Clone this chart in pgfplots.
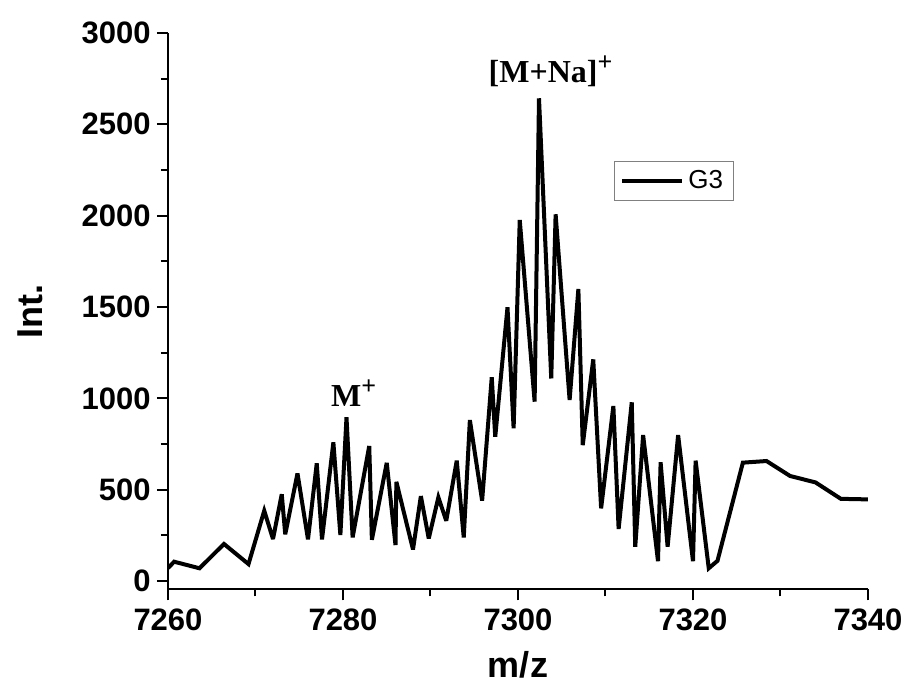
\documentclass[border=0pt]{standalone}
\usepackage{fontspec}
\setmainfont{Liberation Sans}
\newfontfamily\timesfont{Liberation Serif}
\usepackage{pgfplots}
\pgfplotsset{compat=1.18}
\begin{document}
\begin{tikzpicture}
\begin{axis}[
  name=ax,
  scale only axis,
  width=350pt, height=278.2pt,
  xmin=7260, xmax=7340, ymin=-45, ymax=3000,
  axis lines*=left,
  axis line style={line width=1pt},
  xtick={7260,7280,...,7340},
  ytick={0,500,...,3000},
  minor x tick num=1, minor y tick num=1,
  tick align=outside,
  major tick length=5.5pt, minor tick length=3.5pt,
  tick style={line width=1pt, black},
  /pgf/number format/assume math mode=true,
  /pgf/number format/set thousands separator={},
  ticklabel style={font=\fontsize{15.5}{18}\selectfont\bfseries},
  xticklabel style={inner sep=1pt, yshift=-3pt},
  yticklabel style={inner sep=1pt, xshift=-2pt},
  xlabel={m/z}, ylabel={Int.},
  label style={font=\fontsize{18}{21}\selectfont\bfseries},
  xlabel style={at={(axis description cs:0.5,-0.136)}, anchor=center},
  ylabel style={at={(axis description cs:-0.197,0.5)}, anchor=center},
  legend style={at={(0.637,0.77)}, anchor=north west, draw=gray, line width=0.6pt,
    font=\fontsize{13}{15}\selectfont, inner xsep=3pt, inner ysep=2.5pt},
  legend cell align=left,
  legend image code/.code={\draw[#1] (0pt,0pt) -- (30pt,0pt);},
]
\addplot[black, line width=2pt, line join=miter, miter limit=4] coordinates {
(7260.0,71) (7260.7,106) (7263.6,70) (7266.4,203) (7269.2,93)
(7271.0,385) (7272.0,230) (7273.0,475) (7273.4,256) (7274.8,589)
(7276.0,228) (7277.0,644) (7277.6,228) (7278.9,759) (7279.7,252)
(7280.4,896) (7281.1,239) (7283.0,739) (7283.3,226) (7285.0,647)
(7286.0,197) (7286.1,543) (7288.0,173) (7288.9,465) (7289.8,233)
(7290.9,458) (7291.8,330) (7293.0,659) (7293.8,239) (7294.5,881)
(7295.9,440) (7297.0,1115) (7297.4,790) (7298.8,1498) (7299.5,836)
(7300.2,1976) (7301.9,982) (7302.4,2642) (7303.8,1109) (7304.3,2007)
(7305.9,991) (7306.9,1598) (7307.4,744) (7308.6,1213) (7309.5,398)
(7310.9,958) (7311.5,285) (7313.0,978) (7313.4,188) (7314.3,799)
(7316.0,109) (7316.3,650) (7317.1,188) (7318.3,799) (7320.0,109)
(7320.3,659) (7321.8,70) (7322.8,111) (7325.7,648) (7328.4,657)
(7331.1,575) (7334.0,540) (7336.9,450) (7340.0,447)
};
\addlegendentry{G3}
\node[anchor=base west, inner sep=0pt, font=\timesfont\bfseries\fontsize{16}{19}\selectfont] at (axis cs:7296.6,2726) {[M+Na]\textsuperscript{\fontsize{13}{15}\selectfont +}};
\node[anchor=base west, inner sep=0pt, font=\timesfont\bfseries\fontsize{16}{19}\selectfont] at (axis cs:7278.6,954) {M\textsuperscript{\fontsize{13}{15}\selectfont +}};
\end{axis}
\pgfresetboundingbox
\path[use as bounding box] ([xshift=-84pt, yshift=-52.85pt]ax.south west) rectangle ++(453.5pt,347.5pt);
\end{tikzpicture}
\end{document}
